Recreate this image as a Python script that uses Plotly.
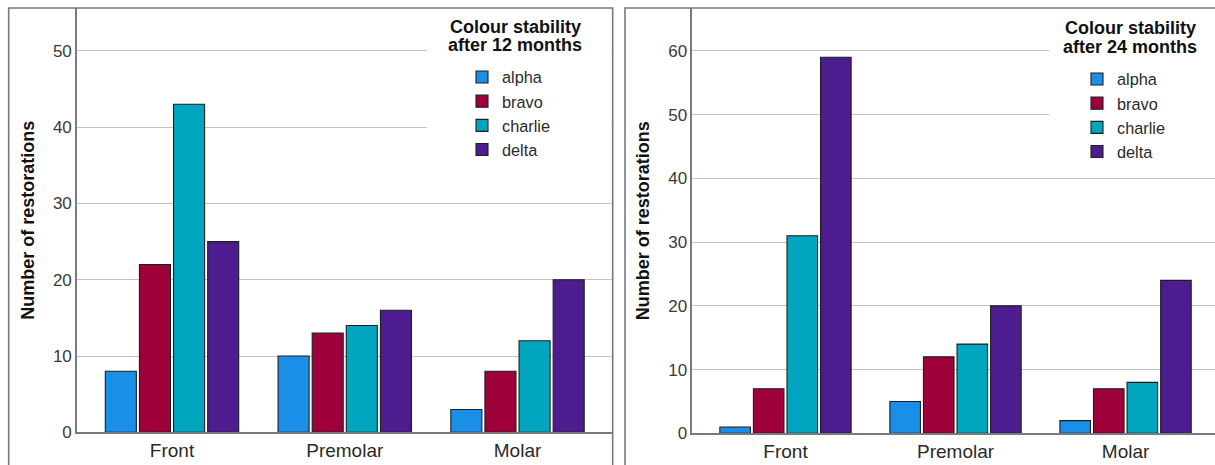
import plotly.graph_objects as go

# ---------------- data ----------------
categories = ["Front", "Premolar", "Molar"]
series_names = ["alpha", "bravo", "charlie", "delta"]
colors = ["#1a8fe8", "#9e003c", "#00a5bf", "#4d1c8e"]

m12_alpha = [8, 10, 3]
m12_bravo = [22, 13, 8]
m12_charlie = [43, 14, 12]
m12_delta = [25, 16, 20]

m24_alpha = [1, 5, 2]
m24_bravo = [7, 12, 7]
m24_charlie = [31, 14, 8]
m24_delta = [59, 20, 24]

y_ticks_12 = [0, 10, 20, 30, 40, 50]
y_ticks_24 = [0, 10, 20, 30, 40, 50, 60]

legend_title_12 = ["Colour stability", "after 12 months"]
legend_title_24 = ["Colour stability", "after 24 months"]
y_title = "Number of restorations"

# ---------------- figure ----------------
W, H = 1215, 465          # reference picture size (positions below are in these pixels)
FIG_H = 474               # figure height that renders to the 465 px picture
FONT = "Liberation Sans, Arial, sans-serif"


def px(x):
    return x / W


def py(y):
    return 1 - y / H


fig = go.Figure()

sets12 = [m12_alpha, m12_bravo, m12_charlie, m12_delta]
sets24 = [m24_alpha, m24_bravo, m24_charlie, m24_delta]

for name, vals, c in zip(series_names, sets12, colors):
    fig.add_trace(go.Bar(x=categories, y=vals, name=name, xaxis="x", yaxis="y",
                         marker=dict(color=c, line=dict(color="#1e1e1e", width=1.1)),
                         legend="legend"))
for name, vals, c in zip(series_names, sets24, colors):
    fig.add_trace(go.Bar(x=categories, y=vals, name=name, xaxis="x2", yaxis="y2",
                         marker=dict(color=c, line=dict(color="#1e1e1e", width=1.1)),
                         legend="legend2"))

axis_line = dict(showline=True, linecolor="#7a7a7a", linewidth=1.6)
grid = dict(showgrid=True, gridcolor="#c3c3c3", gridwidth=1.4)

xcommon = dict(type="category", showgrid=False, zeroline=False, ticks="",
               tickfont=dict(family=FONT, size=19, color="#2a2a2a"), fixedrange=True, **axis_line)
ycommon = dict(zeroline=False, ticks="", tickfont=dict(family=FONT, size=17, color="#3a3a3a"),
               title=dict(text="<b>%s</b>" % y_title, font=dict(family=FONT, size=18, color="#111111"),
                          standoff=14),
               fixedrange=True, **axis_line, **grid)

legend_font = dict(family=FONT, size=16.3, color="#2a2a2a")

fig.update_layout(
    width=W, height=FIG_H, autosize=False,
    margin=dict(l=0, r=0, t=0, b=0),
    paper_bgcolor="white", plot_bgcolor="white",
    barmode="group", bargap=0.21, bargroupgap=0.09,
    xaxis=dict(domain=[px(77), px(612.7)], anchor="y", range=[-0.55, 2.551], **xcommon),
    yaxis=dict(domain=[py(433.3), py(8)], anchor="x", range=[0, 55.62], tickvals=y_ticks_12, **ycommon),
    xaxis2=dict(domain=[px(692.3), 1.0], anchor="y2", range=[-0.548, 2.526], **xcommon),
    yaxis2=dict(domain=[py(434.3), py(8)], anchor="x2", range=[0, 66.73], tickvals=y_ticks_24, **ycommon),
    legend=dict(x=px(462), y=py(60), xanchor="left", yanchor="top", bgcolor="rgba(0,0,0,0)",
                font=legend_font, tracegroupgap=0),
    legend2=dict(x=px(1077), y=py(62), xanchor="left", yanchor="top", bgcolor="rgba(0,0,0,0)",
                 font=legend_font, tracegroupgap=0),
    showlegend=True,
)

# white areas behind the legends (gridlines stop there)
fig.add_shape(type="rect", xref="paper", yref="paper", x0=px(427), x1=px(611.5), y0=py(168), y1=py(9),
              fillcolor="white", line=dict(width=0), layer="above")
fig.add_shape(type="rect", xref="paper", yref="paper", x0=px(1049), x1=px(1215), y0=py(170), y1=py(9),
              fillcolor="white", line=dict(width=0), layer="above")

# panel frames
frame = dict(color="#7a7a7a", width=1.6)
fig.add_shape(type="path", xref="paper", yref="paper",
              path="M %f %f L %f %f L %f %f L %f %f" % (px(8.7), py(480), px(8.7), py(8),
                                                        px(612.7), py(8), px(612.7), py(480)),
              line=frame, layer="above")
fig.add_shape(type="path", xref="paper", yref="paper",
              path="M %f %f L %f %f L %f %f" % (px(625), py(480), px(625), py(8), px(1220), py(8)),
              line=frame, layer="above")

# legend titles
for lines, cx, ys in [(legend_title_12, 515, (27, 45)), (legend_title_24, 1130, (28, 47))]:
    for t, yy in zip(lines, ys):
        fig.add_annotation(x=px(cx), y=py(yy), xref="paper", yref="paper", text="<b>%s</b>" % t,
                           showarrow=False, xanchor="center", yanchor="middle",
                           font=dict(family=FONT, size=18, color="#111111"))

fig.write_html("out.html", config={"displayModeBar": False},
               post_script="document.body.style.margin='0';document.body.style.overflow='hidden';")
